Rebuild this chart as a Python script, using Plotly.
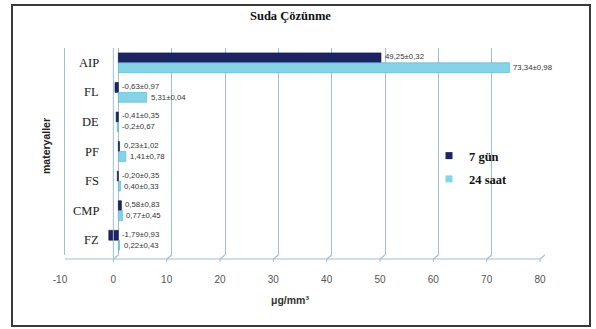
import plotly.graph_objects as go

# Data
materials = ["AIP", "FL", "DE", "PF", "FS", "CMP", "FZ"]
gun7 = [49.25, -0.63, -0.41, 0.23, -0.20, 0.58, -1.79]
saat24 = [73.34, 5.31, -0.2, 1.41, 0.40, 0.77, 0.22]
gun7_labels = ["49,25±0,32", "-0,63±0,97", "-0,41±0,35", "0,23±1,02",
               "-0,20±0,35", "0,58±0,83", "-1,79±0,93"]
saat24_labels = ["73,34±0,98", "5,31±0,04", "-0,2±0,67", "1,41±0,78",
                 "0,40±0,33", "0,77±0,45", "0,22±0,43"]
x_ticks = list(range(-10, 81, 10))

DARK = "#1c2464"
LIGHT = "#86d2e6"
GRID = "#9fbfd3"

W, H = 596, 329
L, R, T, B = 65, 545, 48, 255


def px_x(p):
    return (p - L) / (R - L)


def px_y(p):
    return (B - p) / (B - T)


units_per_px = (80 - (-10)) / (R - L)
depth = 5 * units_per_px  # horizontal offset of the 3D floor edge

fig = go.Figure()
fig.add_trace(go.Bar(y=materials, x=gun7, orientation="h", name="7 gün",
                     showlegend=False, legendgroup="g7",
                     marker=dict(color=DARK, line=dict(color="#10153f", width=0.6))))
fig.add_trace(go.Bar(y=materials, x=saat24, orientation="h", name="24 saat",
                     showlegend=False, legendgroup="s24",
                     marker=dict(color=LIGHT, line=dict(color="#4fb3cf", width=0.6))))
# small square keys for the legend
fig.add_trace(go.Scatter(x=[None], y=[None], mode="markers", name="7 gün",
                         legendgroup="g7",
                         marker=dict(symbol="square", size=7, color=DARK)))
fig.add_trace(go.Scatter(x=[None], y=[None], mode="markers", name="24 saat",
                         legendgroup="s24",
                         marker=dict(symbol="square", size=7, color=LIGHT)))

annotations = []
label_font = dict(family="Liberation Sans", size=7.8, color="#333333")
for m, v, t in zip(materials, gun7, gun7_labels):
    annotations.append(dict(x=max(v, 0), y=m, xref="x", yref="y", text=t,
                            showarrow=False, xanchor="left", xshift=2, yshift=6,
                            font=label_font))
for m, v, t in zip(materials, saat24, saat24_labels):
    annotations.append(dict(x=max(v, 0), y=m, xref="x", yref="y", text=t,
                            showarrow=False, xanchor="left", xshift=2, yshift=-5,
                            font=label_font))

# category labels beside the value-zero wall
for m in materials:
    annotations.append(dict(x=0, y=m, xref="x", yref="y", text=m, showarrow=False,
                            xanchor="right", xshift=-17,
                            font=dict(family="Liberation Serif", size=12.5, color="#1a1a1a")))

annotations.append(dict(x=px_x(290), y=px_y(16), xref="paper", yref="paper",
                        yanchor="middle",
                        text="<b>Suda Çözünme</b>", showarrow=False,
                        font=dict(family="Liberation Serif", size=12.5, color="#111111")))
annotations.append(dict(x=px_x(290), y=px_y(300), xref="paper", yref="paper",
                        yanchor="middle",
                        text="<b>μg/mm³</b>", showarrow=False,
                        font=dict(family="Liberation Sans", size=10.5, color="#333333")))
annotations.append(dict(x=px_x(38), y=px_y(146), xref="paper", yref="paper",
                        text="<b>materyaller</b>", showarrow=False, textangle=-90,
                        font=dict(family="Liberation Sans", size=10.5, color="#222222")))

shapes = []
# outer frame
shapes.append(dict(type="rect", xref="paper", yref="paper",
                   x0=px_x(12), x1=px_x(590), y0=px_y(5), y1=px_y(326),
                   line=dict(color="#3a3a3a", width=2), layer="below"))
# floor edge and hooks to the back gridlines
floor_y = px_y(259)
shapes.append(dict(type="line", xref="x", yref="paper",
                   x0=x_ticks[0] - depth, x1=x_ticks[-1] - depth, y0=floor_y, y1=floor_y,
                   line=dict(color=GRID, width=1.2)))
for v in x_ticks:
    shapes.append(dict(type="line", xref="x", yref="paper",
                       x0=v, x1=v - depth, y0=0, y1=floor_y,
                       line=dict(color=GRID, width=1.2)))
    shapes.append(dict(type="line", xref="x", yref="paper",
                       x0=v - depth, x1=v - depth, y0=floor_y, y1=px_y(262),
                       line=dict(color=GRID, width=1)))
# front edge of the side wall
shapes.append(dict(type="line", xref="x", yref="paper",
                   x0=x_ticks[0] - depth, x1=x_ticks[0] - depth, y0=floor_y, y1=1.0,
                   line=dict(color=GRID, width=1.2)))
shapes.append(dict(type="line", xref="x", yref="paper",
                   x0=-depth, x1=-depth, y0=floor_y, y1=1.0,
                   line=dict(color=GRID, width=1)))

fig.update_layout(
    width=W, height=H,
    margin=dict(l=L, r=W - R, t=T, b=H - B),
    paper_bgcolor="white", plot_bgcolor="white",
    barmode="group", bargap=0.33, bargroupgap=0.0,
    showlegend=True,
    legend=dict(x=px_x(429), y=px_y(141), xanchor="left", yanchor="top",
                font=dict(family="Liberation Serif", size=12.5, color="#111111", weight="bold"),
                bgcolor="rgba(0,0,0,0)", itemwidth=30, tracegroupgap=4),
    annotations=annotations,
    shapes=shapes,
)
fig.update_xaxes(range=[-10, 80], tickvals=x_ticks, ticktext=[str(v) for v in x_ticks],
                 showgrid=True, gridcolor=GRID, gridwidth=1.2,
                 zeroline=True, zerolinecolor=GRID, zerolinewidth=1.2,
                 showline=False, ticks="", ticklabelshift=-5, ticklabelstandoff=17,
                 tickfont=dict(family="Liberation Sans", size=10, color="#555555"))
fig.update_yaxes(autorange="reversed", showticklabels=False, showgrid=False,
                 zeroline=False, showline=True, linecolor=GRID, linewidth=1.2, ticks="")

fig.write_html("out.html")
